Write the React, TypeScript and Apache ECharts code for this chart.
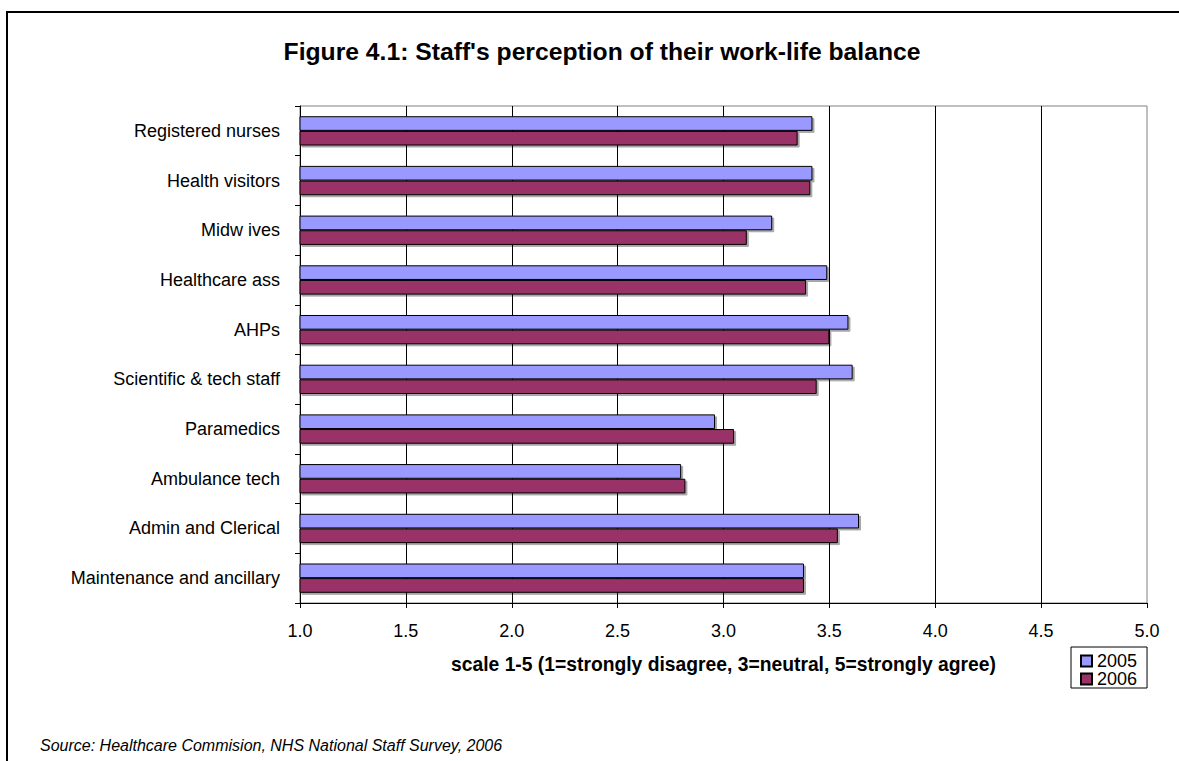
import React, { useEffect, useRef } from "react";
import * as echarts from "echarts";

// Staff groups, top to bottom
const categories = [
  "Registered nurses",
  "Health visitors",
  "Midw ives",
  "Healthcare ass",
  "AHPs",
  "Scientific & tech staff",
  "Paramedics",
  "Ambulance tech",
  "Admin and Clerical",
  "Maintenance and ancillary",
];

// Mean score on the 1-5 scale
const values2005 = [3.42, 3.42, 3.23, 3.49, 3.59, 3.61, 2.96, 2.8, 3.64, 3.38];
const values2006 = [3.35, 3.41, 3.11, 3.39, 3.5, 3.44, 3.05, 2.82, 3.54, 3.38];

const seriesNames = ["2005", "2006"];
const axisMin = 1.0;
const axisMax = 5.0;
const axisStep = 0.5;

const titleText = "Figure 4.1: Staff's perception of their work-life balance";
const axisTitle = "scale 1-5 (1=strongly disagree, 3=neutral, 5=strongly agree)";
const sourceText = "Source: Healthcare Commision, NHS National Staff Survey, 2006";

const FONT = "'Liberation Sans', Arial, Helvetica, sans-serif";

export default function App() {
  const ref = useRef<HTMLDivElement>(null);

  useEffect(() => {
    if (!ref.current) return;
    const chart = echarts.init(ref.current, undefined, { renderer: "svg" });

    const barStyle = (color: string) => ({
      color,
      borderColor: "#000",
      borderWidth: 1,
      shadowColor: "rgba(0,0,0,0.35)",
      shadowOffsetX: 2,
      shadowOffsetY: 2,
      shadowBlur: 0,
    });

    chart.setOption({
      animation: false,
      backgroundColor: "#fff",
      textStyle: { fontFamily: FONT, color: "#000" },
      grid: {
        left: 300,
        top: 106,
        width: 847,
        height: 497,
        show: true,
        borderColor: "#808080",
        borderWidth: 1,
        backgroundColor: "transparent",
      },
      legend: {
        data: seriesNames,
        orient: "vertical",
        left: 1071,
        top: 647,
        padding: [5, 10, 0, 9],
        itemGap: 0,
        itemWidth: 11,
        itemHeight: 11,
        icon: "rect",
        borderColor: "#000",
        borderWidth: 1,
        itemStyle: { shadowColor: "transparent", shadowOffsetX: 0, shadowOffsetY: 0 },
        textStyle: { fontFamily: FONT, fontSize: 18, color: "#000" },
      },
      xAxis: {
        type: "value",
        min: axisMin,
        max: axisMax,
        interval: axisStep,
        name: axisTitle,
        nameLocation: "middle",
        nameGap: 52,
        nameTextStyle: { fontFamily: FONT, fontSize: 19.3, fontWeight: "bold", color: "#000" },
        axisLine: { show: true, lineStyle: { color: "#000", width: 1 } },
        axisTick: { show: true, length: 5, lineStyle: { color: "#000" } },
        axisLabel: {
          fontFamily: FONT,
          fontSize: 18,
          color: "#000",
          margin: 19,
          formatter: (v: number) => v.toFixed(1),
        },
        splitLine: { show: true, showMaxLine: false, lineStyle: { color: "#000", width: 1 } },
      },
      yAxis: {
        type: "category",
        data: categories,
        inverse: true,
        axisLine: { show: true, lineStyle: { color: "#000", width: 1 } },
        axisTick: { show: true, length: 5, lineStyle: { color: "#000" } },
        axisLabel: { fontFamily: FONT, fontSize: 18, color: "#000", margin: 20 },
        splitLine: { show: false },
      },
      series: [
        {
          name: seriesNames[0],
          type: "bar",
          data: values2005,
          barGap: "0%",
          barCategoryGap: "41%",
          itemStyle: barStyle("#9999FF"),
        },
        {
          name: seriesNames[1],
          type: "bar",
          data: values2006,
          barGap: "0%",
          barCategoryGap: "41%",
          itemStyle: barStyle("#993366"),
        },
      ],
      graphic: [
        {
          type: "rect",
          silent: true,
          shape: { x: 7, y: 12, width: 1300, height: 900 },
          style: { fill: "none", stroke: "#000", lineWidth: 2 },
        },
        {
          type: "text",
          x: 602,
          y: 51,
          style: {
            text: titleText,
            fontFamily: FONT,
            fontSize: 24.7,
            fontWeight: "bold",
            fill: "#000",
            textAlign: "center",
            textVerticalAlign: "middle",
          },
        },
        {
          type: "text",
          x: 40,
          y: 745,
          style: {
            text: sourceText,
            fontFamily: FONT,
            fontSize: 16,
            fontStyle: "italic",
            fill: "#000",
            textAlign: "left",
            textVerticalAlign: "middle",
          },
        },
      ],
    });

    return () => chart.dispose();
  }, []);

  return (
    <div
      ref={ref}
      style={{ position: "absolute", left: 0, top: 0, width: 1179, height: 761 }}
    />
  );
}
